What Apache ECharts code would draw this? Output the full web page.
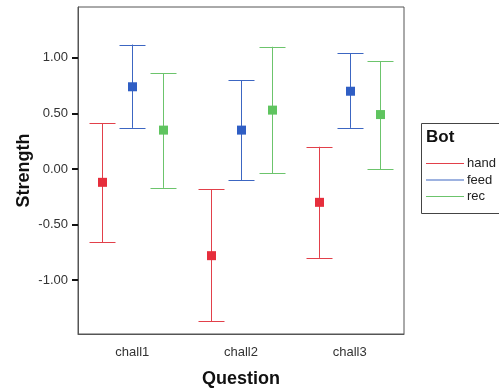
<!DOCTYPE html>
<html><head><meta charset="utf-8">
<script src="https://cdn.jsdelivr.net/npm/echarts@6/dist/echarts.min.js"></script>
<style>html,body{margin:0;padding:0;background:#fff}#c{width:499px;height:390px}</style>
</head><body><div id="c"></div>
<script>
var categories = ['chall1', 'chall2', 'chall3'];
var seriesNames = ['hand', 'feed', 'rec'];
var handMean = [-0.12, -0.78, -0.30];
var handLow  = [-0.66, -1.37, -0.80];
var handHigh = [0.41, -0.18, 0.20];
var feedMean = [0.74, 0.35, 0.70];
var feedLow  = [0.37, -0.10, 0.37];
var feedHigh = [1.12, 0.80, 1.04];
var recMean  = [0.35, 0.53, 0.49];
var recLow   = [-0.17, -0.04, 0.00];
var recHigh  = [0.86, 1.10, 0.97];
var yTicks = [-1.0, -0.5, 0.0, 0.5, 1.0];

var colors = ['#e62e3c', '#2f5ec4', '#5fc45f'];
var lineColors = ['#e2404a', '#3c66c2', '#6cc46c'];
var offsets = [-30.5, 0, 30.5];
var groups = [[handMean, handLow, handHigh], [feedMean, feedLow, feedHigh], [recMean, recLow, recHigh]];

function makeSeries(si) {
  var g = groups[si];
  var data = categories.map(function (c, i) { return [i, g[0][i], g[1][i], g[2][i]]; });
  return {
    name: seriesNames[si],
    type: 'custom',
    itemStyle: { color: lineColors[si] },
    data: data,
    encode: { x: 0, y: [1, 2, 3] },
    renderItem: function (params, api) {
      var x = api.value(0);
      var pm = api.coord([x, api.value(1)]);
      var pl = api.coord([x, api.value(2)]);
      var ph = api.coord([x, api.value(3)]);
      var cx = Math.round(pm[0] + offsets[si]) + 0.5;
      var hw = 13;
      var st = { stroke: lineColors[si], lineWidth: 1 };
      return {
        type: 'group',
        children: [
          { type: 'line', shape: { x1: cx, y1: ph[1], x2: cx, y2: pl[1] }, style: st },
          { type: 'line', shape: { x1: cx - hw, y1: Math.round(ph[1]) + 0.5, x2: cx + hw, y2: Math.round(ph[1]) + 0.5 }, style: st },
          { type: 'line', shape: { x1: cx - hw, y1: Math.round(pl[1]) + 0.5, x2: cx + hw, y2: Math.round(pl[1]) + 0.5 }, style: st },
          { type: 'rect', shape: { x: cx - 4.5, y: pm[1] - 4.5, width: 9, height: 9 }, style: { fill: colors[si] } }
        ]
      };
    }
  };
}

var chart = echarts.init(document.getElementById('c'), null, { renderer: 'canvas' });
chart.setOption({
  animation: false,
  backgroundColor: '#fff',
  textStyle: { fontFamily: 'Liberation Sans, Arial, sans-serif' },
  grid: { left: 78, top: 7, width: 326, height: 327, show: true, borderColor: '#555', borderWidth: 1, containLabel: false, outerBoundsMode: 'none' },
  xAxis: {
    type: 'category',
    data: categories,
    boundaryGap: true,
    name: 'Question',
    nameLocation: 'middle',
    nameGap: 36,
    nameMoveOverlap: false,
    nameTextStyle: { fontSize: 18, fontWeight: 'bold', color: '#111', fontFamily: 'Liberation Sans, Arial, sans-serif' },
    axisLine: { onZero: false, lineStyle: { color: '#555', width: 1 } },
    axisTick: { alignWithLabel: true, length: 5, lineStyle: { color: '#111', width: 2 } },
    axisLabel: { fontSize: 13, color: '#333', margin: 12 },
    splitLine: { show: false }
  },
  yAxis: {
    type: 'value',
    min: -1.485,
    max: 1.458,
    name: 'Strength',
    nameLocation: 'middle',
    nameGap: 45,
    nameMoveOverlap: false,
    nameTextStyle: { fontSize: 18, fontWeight: 'bold', color: '#111', fontFamily: 'Liberation Sans, Arial, sans-serif' },
    axisLine: { show: true, onZero: false, lineStyle: { color: '#555', width: 1 } },
    axisTick: { show: true, length: 6, customValues: yTicks, lineStyle: { color: '#111', width: 2 } },
    axisLabel: { fontSize: 13, color: '#333', margin: 10, customValues: yTicks, formatter: function (v) { return v.toFixed(2); } },
    splitLine: { show: false }
  },
  legend: {
    orient: 'vertical',
    left: 421,
    top: 152,
    itemGap: 3.5,
    itemWidth: 38,
    itemHeight: 1,
    icon: 'rect',
    textStyle: { fontSize: 13, color: '#222', padding: [0, 0, 0, -2] },
    data: seriesNames.map(function (n, i) { return { name: n, itemStyle: { color: lineColors[i] } }; })
  },
  graphic: [
    { type: 'rect', left: 419, top: 121, shape: { width: 100, height: 90 }, style: { fill: 'none', stroke: '#444', lineWidth: 1 }, z: 0 },
    { type: 'text', left: 426, top: 129, style: { text: 'Bot', font: 'bold 17px Liberation Sans, Arial, sans-serif', fill: '#111' } }
  ],
  series: [makeSeries(0), makeSeries(1), makeSeries(2)]
});
</script></body></html>
